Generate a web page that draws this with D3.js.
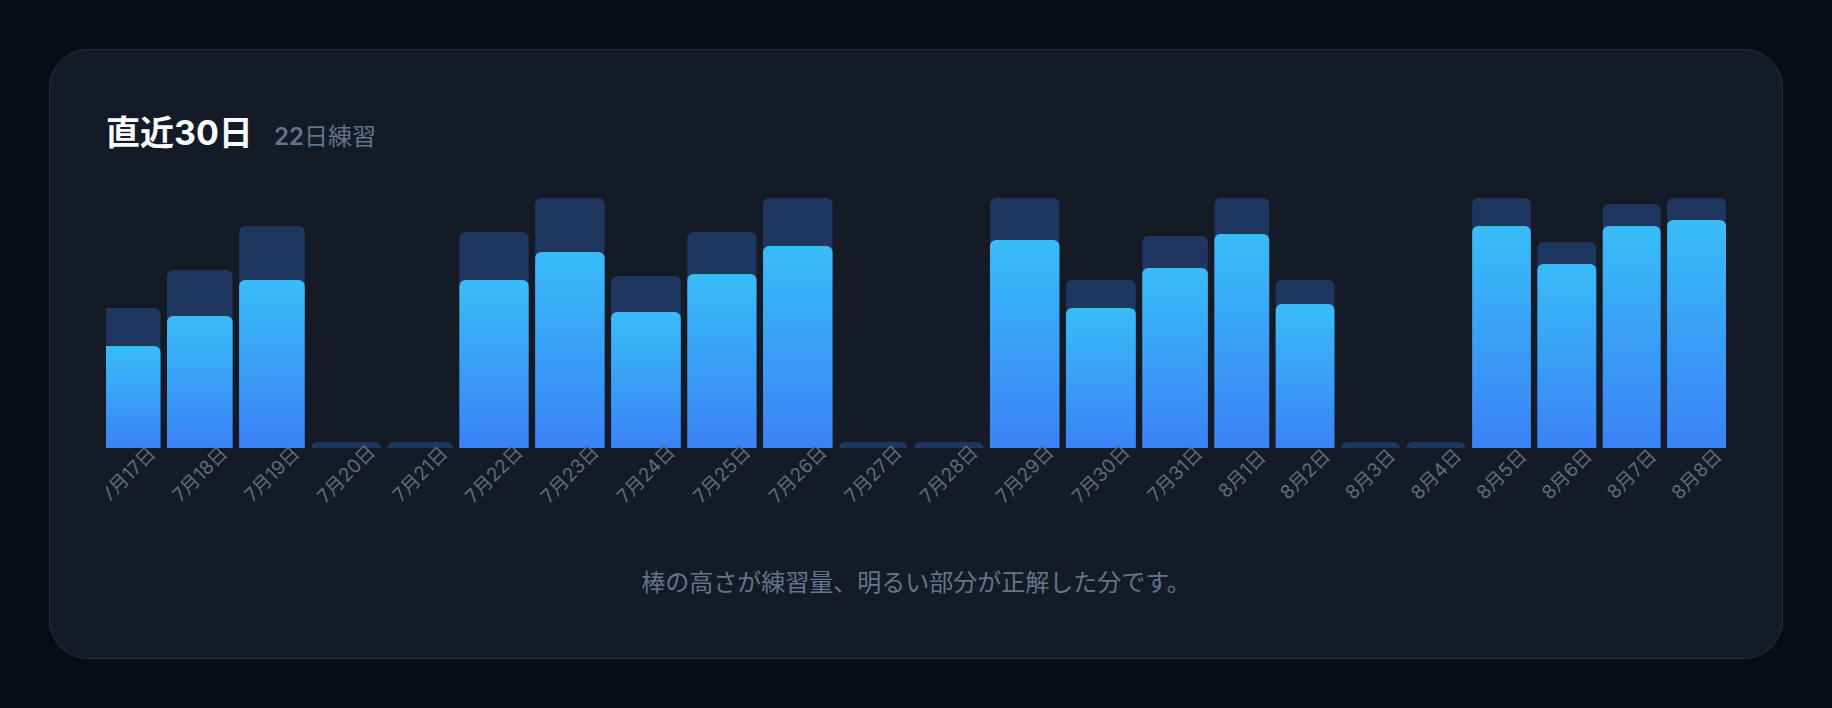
<!DOCTYPE html>
<html>
<head>
<meta charset="utf-8">
<script src="https://cdn.jsdelivr.net/npm/d3@7"></script>
<style>
  html, body { margin: 0; background: #090c15; }
  svg { display: block; font-family: Inter, "Noto Sans CJK JP", sans-serif; }
</style>
</head>
<body>
<svg id="chart"></svg>
<script>
const days = ["7月17日", "7月18日", "7月19日", "7月20日", "7月21日", "7月22日", "7月23日", "7月24日",
  "7月25日", "7月26日", "7月27日", "7月28日", "7月29日", "7月30日", "7月31日", "8月1日",
  "8月2日", "8月3日", "8月4日", "8月5日", "8月6日", "8月7日", "8月8日"];
// 練習量 (bar height) and 正解 (bright part)
const totals  = [28, 35.6, 44.4, 0, 0, 43.2, 50, 34.4, 43.2, 50, 0, 0, 50, 33.6, 42.4, 50, 33.6, 0, 0, 50, 41.2, 48.8, 50];
const correct = [20.4, 26.4, 33.6, 0, 0, 33.6, 39.2, 27.2, 34.8, 40.4, 0, 0, 41.6, 28, 36, 42.8, 28.8, 0, 0, 44.4, 36.8, 44.4, 45.6];

const titleText = "直近30日";
const subCount = "22";
const subText = "日練習";
const noteText = "棒の高さが練習量、明るい部分が正解した分です。";

const W = 1832, H = 708;
const card = { x: 49, y: 49, w: 1734, h: 610, r: 38 };
const plot = { left: 106, right: 1726, top: 198, bottom: 448 };
const gap = 6.5, minH = 6, labelSize = 19;
// the row is scrolled to its right end; all columns after the first span this width
const fullSpan = 1559;

const svg = d3.select("#chart").attr("width", W).attr("height", H);

const defs = svg.append("defs");
const grad = defs.append("linearGradient")
  .attr("id", "bright")
  .attr("x1", 0).attr("y1", 0).attr("x2", 0).attr("y2", 1);
grad.append("stop").attr("offset", "0%").attr("stop-color", "#38bdf8");
grad.append("stop").attr("offset", "100%").attr("stop-color", "#3b82f6");

defs.append("clipPath").attr("id", "plotClip")
  .append("rect")
  .attr("x", plot.left).attr("y", 0)
  .attr("width", plot.right - plot.left + 20).attr("height", H);

// card
svg.append("rect")
  .attr("x", card.x + 0.5).attr("y", card.y + 0.5)
  .attr("width", card.w - 1).attr("height", card.h - 1)
  .attr("rx", card.r)
  .attr("fill", "#141a26")
  .attr("stroke", "#262e3c");

// header
svg.append("text")
  .attr("x", plot.left).attr("y", 145)
  .attr("fill", "#f8fafc")
  .attr("font-size", 34).attr("font-weight", 700)
  .text(titleText);

const sub = svg.append("text")
  .attr("x", 274).attr("y", 145)
  .attr("fill", "#64748b")
  .attr("font-size", 24);
sub.append("tspan").attr("font-weight", 600).text(subCount);
sub.append("tspan").attr("font-weight", 400).text(subText);

// measure label widths -> column widths
const measure = svg.append("g").attr("font-size", labelSize);
const lens = days.map(d => {
  const t = measure.append("text").text(d);
  const l = t.node().getComputedTextLength();
  t.remove();
  return l;
});
measure.remove();

const rest = lens.slice(1);
const pad = (fullSpan - gap * (rest.length - 1) - d3.sum(rest)) / rest.length;
const widths = lens.map(l => l + pad);

const xs = [];
let cur = plot.right;
for (let i = days.length - 1; i >= 0; i--) {
  cur -= widths[i];
  xs[i] = cur;
  cur -= gap;
}

const x = d3.scaleOrdinal().domain(days).range(xs);
const bw = d3.scaleOrdinal().domain(days).range(widths);
const y = d3.scaleLinear().domain([0, d3.max(totals)]).range([plot.bottom, plot.top]);

function topRounded(x0, y0, w, h, r) {
  r = Math.min(r, h, w / 2);
  return `M${x0},${y0 + h}V${y0 + r}A${r},${r} 0 0 1 ${x0 + r},${y0}H${x0 + w - r}A${r},${r} 0 0 1 ${x0 + w},${y0 + r}V${y0 + h}Z`;
}

const data = days.map((d, i) => ({ day: d, total: totals[i], correct: correct[i] }));

const g = svg.append("g").attr("clip-path", "url(#plotClip)");

g.selectAll(".total")
  .data(data)
  .join("path")
  .attr("class", "total")
  .attr("fill", "#1f3660")
  .attr("d", d => {
    const h = Math.max(y(0) - y(d.total), minH);
    return topRounded(x(d.day), y(0) - h, bw(d.day), h, 6);
  });

g.selectAll(".correct")
  .data(data.filter(d => d.correct > 0))
  .join("path")
  .attr("class", "correct")
  .attr("fill", "url(#bright)")
  .attr("d", d => {
    const h = y(0) - y(d.correct);
    return topRounded(x(d.day), y(d.correct), bw(d.day), h, 6);
  });

g.selectAll(".label")
  .data(data)
  .join("text")
  .attr("class", "label")
  .attr("transform", d => `translate(${x(d.day) + bw(d.day) / 2},474) rotate(-45)`)
  .attr("text-anchor", "middle")
  .attr("dy", "0.35em")
  .attr("font-size", labelSize)
  .attr("fill", "#5f6b7e")
  .text(d => d.day);

// footnote
svg.append("text")
  .attr("x", card.x + card.w / 2).attr("y", 591)
  .attr("text-anchor", "middle")
  .attr("fill", "#64748b")
  .attr("font-size", 24)
  .text(noteText);
</script>
</body>
</html>
